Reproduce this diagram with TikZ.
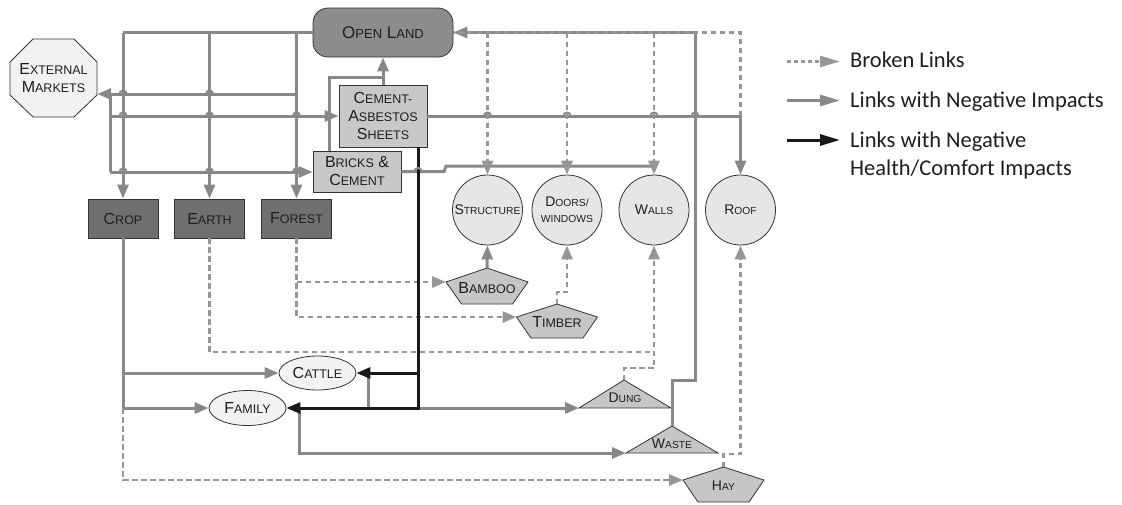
\documentclass[tikz,border=0pt]{standalone}
\usepackage{fontspec}
\setmainfont{Liberation Sans}
\newfontfamily\legfont{Carlito}
\usetikzlibrary{arrows.meta,calc,shapes.geometric}

\definecolor{ln}{HTML}{888888}
\definecolor{dln}{HTML}{969696}
\definecolor{bd}{HTML}{333333}
\definecolor{fdark}{HTML}{707070}
\definecolor{fmid}{HTML}{8C8C8C}
\definecolor{flight}{HTML}{C8C8C8}
\definecolor{fcirc}{HTML}{E6E6E6}
\definecolor{fpale}{HTML}{F1F2F1}
\definecolor{fpoly}{HTML}{C6C6C6}
\definecolor{txt}{HTML}{1E1E1E}

\newcommand\Ka[2]{#1{\fontsize{12.5}{18}\selectfont #2}}
\newcommand\Kb[2]{#1{\fontsize{10.3}{16}\selectfont #2}}
\newcommand\Kc[2]{#1{\fontsize{13}{18}\selectfont #2}}

\tikzset{
  gl/.style={draw=ln, line width=3pt},
  dl/.style={draw=dln, line width=2.8pt, dash pattern=on 5.5pt off 3.5pt},
  bl/.style={draw=black!90, line width=3pt},
  tip/.style={-{Triangle[length=14pt,width=11pt]}},
  box/.style={draw=bd, line width=0.8pt, inner sep=0pt, align=center, text=txt,
              font=\fontsize{16}{18}\selectfont},
  circ/.style={circle, draw=bd, line width=0.8pt, fill=fcirc, minimum size=70pt,
               inner sep=0pt, align=center, text=txt, font=\fontsize{14}{16}\selectfont},
  ell/.style={ellipse, draw=bd, line width=0.8pt, fill=fpale, minimum width=77pt,
              minimum height=34pt, inner sep=0pt, text=txt, font=\fontsize{16}{18}\selectfont},
  poly/.style={draw=bd, line width=0.8pt, fill=fpoly},
  lbl/.style={inner sep=0pt, align=center, text=txt, font=\fontsize{16}{18}\selectfont},
  lbls/.style={inner sep=0pt, align=center, text=txt, font=\fontsize{14}{16}\selectfont},
  legtxt/.style={anchor=base west, inner sep=0pt, text=txt, font=\legfont\fontsize{22.5}{28}\selectfont},
  hop/.style={draw=ln, line width=2pt}
}

\begin{document}
\begin{tikzpicture}[x=1pt,y=-1pt]
\useasboundingbox (0,0) rectangle (1122,504);

% ---------- shapes drawn directly ----------
\draw[draw=bd, line width=0.8pt, fill=fpale]
  (10,62) -- (33,39) -- (74,39) -- (97,62) -- (97,95) -- (74,117) -- (33,117) -- (10,95) -- cycle;
\draw[poly] (487,268) -- (528,282) -- (512.5,304) -- (461.5,304) -- (446,282) -- cycle;
\draw[poly] (557,304) -- (597.5,317) -- (583,338) -- (531,338) -- (516.5,317) -- cycle;
\draw[poly] (723.5,467) -- (764,480) -- (749,502) -- (698,502) -- (683,480) -- cycle;
\draw[poly] (624,380) -- (671,408) -- (579,408) -- cycle;
\draw[poly] (672,426) -- (718,453) -- (626,453) -- cycle;

\coordinate (bamT) at (487,268);   \coordinate (bamL) at (446,282);
\coordinate (timT) at (557,304);   \coordinate (timL) at (516.5,317);
\coordinate (hayT) at (723.5,467); \coordinate (hayL) at (683,480);
\coordinate (dungA) at (624,380);  \coordinate (dungL) at (579,408);
\coordinate (wasteA) at (672,426); \coordinate (wasteL) at (626,453);

% ---------- nodes ----------
\node[box, rounded corners=15pt, fill=fmid, minimum width=140pt, minimum height=49pt,
      font=\fontsize{17}{18}\selectfont] (ol) at (383,32.5) {\Kc{O}{PEN} \Kc{L}{AND}};
\node[lbl, minimum width=87pt, minimum height=78pt] (em) at (53.5,78)
      {\Ka{E}{XTERNAL}\\\Ka{M}{ARKETS}};
\node[box, fill=flight, minimum width=88pt, minimum height=62pt] (cas) at (383,116)
      {\Ka{C}{EMENT-}\\\Ka{A}{SBESTOS}\\\Ka{S}{HEETS}};
\node[box, fill=flight, minimum width=88pt, minimum height=41pt] (bc) at (357,171.5)
      {\Ka{B}{RICKS} \&\\\Ka{C}{EMENT}};
\node[box, fill=fdark, minimum width=70pt, minimum height=39pt] (crop) at (123,218.5) {\Ka{C}{ROP}};
\node[box, fill=fdark, minimum width=70pt, minimum height=39pt] (earth) at (209.5,218.5) {\Ka{E}{ARTH}};
\node[box, fill=fdark, minimum width=70pt, minimum height=39pt] (forest) at (296.5,218.5) {\Ka{F}{OREST}};

\node[circ] (st) at (487.5,210) {\Kb{S}{TRUCTURE}};
\node[circ] (dw) at (567,210) {\Kb{D}{OORS/}\\\Kb{}{WINDOWS}};
\node[circ] (wa) at (654,210) {\Kb{W}{ALLS}};
\node[circ] (rf) at (740.5,210) {\Kb{R}{OOF}};

\node[ell] (ca) at (317.5,373) {\Ka{C}{ATTLE}};
\node[ell, minimum height=35pt] (fa) at (247.5,408) {\Ka{F}{AMILY}};

\node[lbl] (bam) at (487,288) {\Ka{B}{AMBOO}};
\node[lbl] (tim) at (557,322) {\Ka{T}{IMBER}};
\node[lbls] (hay) at (723.5,486) {\Kb{H}{AY}};
\node[lbls] (dung) at (625,398) {\Kb{D}{UNG}};
\node[lbls] (waste) at (672,444) {\Kb{W}{ASTE}};

% ---------- connectors ----------
% Open Land -> Crop / Earth / Forest
\draw[gl] (ol.west) -- (crop.north |- ol.west);
\draw[gl,tip] (crop.north |- ol.west) -- (crop.north);
\draw[gl,tip] (earth.north |- ol.west) -- (earth.north);
\draw[gl,tip] (forest.north |- ol.west) -- (forest.north);

% -> External Markets, External Markets -> materials
\coordinate (j1) at (110,94); \coordinate (j2) at (110,116); \coordinate (j3) at (110,172);
\draw[gl,tip] (forest.north |- j1) -- (em.east |- j1);
\draw[gl] (j1) -- (j3);
\draw[gl,tip] (j2) -- (cas.west |- j2);
\draw[gl,tip] (j3) -- (bc.west |- j3);

% materials -> Open Land
\draw[gl,tip] (cas.north) -- (ol.south);
\draw[gl] ($(bc.north west)+(17,0)$) |- ($(cas.north)+(0,-7)$);

% Cement-Asbestos -> Roof
\draw[gl,tip] (cas.east) -| (rf.north);

% Bricks -> Structure / Doors / Walls
\draw[gl] (bc.east) -- (444,171.5) -- (446,166) -- (wa.north |- 0,166);

% Waste -> Open Land
\draw[gl,tip] (wasteA) -- (672,380) -- (695,380) -- (695,32.5) -- (ol.east);

% broken links from top to elements
\draw[dl] (rf.north |- cas.east) -- (rf.north |- ol.east) -- (ol.east);
\foreach \n in {st,dw,wa} \draw[dl,tip] (\n.north |- ol.east) -- (\n.north);

% Crop -> Cattle, Family, Hay
\draw[gl] (crop.south) -- (crop.south |- fa.west);
\draw[gl,tip] (crop.south |- ca.west) -- (ca.west);
\draw[gl,tip] (crop.south |- fa.west) -- (fa.west);
\draw[dl,tip] (crop.south |- fa.west) |- (hayL);

% Earth -> Walls, Dung -> Walls
\draw[dl] (earth.south) |- (wa.south |- 0,352);
\draw[dl,tip] (dungA) -- (624,368) -- (wa.south |- 0,368) -- (wa.south);

% Forest -> Bamboo, Timber
\draw[dl,tip] (forest.south) |- (timL);
\draw[dl,tip] (forest.south |- bamL) -- (bamL);

% Bamboo -> Structure, Timber -> Doors, Hay -> Roof
\draw[gl,tip] (bamT) -- (st.south);
\draw[dl,tip] (timT) -- (557,292) -- (dw.south |- 0,292) -- (dw.south);
\draw[dl,tip] (hayT) -- (723.5,454) -- (rf.south |- 0,454) -- (rf.south);

% Cattle -> Dung, Family -> Waste
\draw[gl,tip] ($(ca.east)+(12,0)$) |- (dungL);
\draw[gl,tip] ($(fa.east)+(13,0)$) |- (wasteL);

% health/comfort links
\coordinate (bk) at ($(cas.south)+(35,0)$);
\draw[bl,tip] (bk) |- (fa.east);
\draw[bl,tip] (bk |- ca.east) -- (ca.east);

% line hops
\foreach \x/\y in {123/94, 209.5/94, 123/116, 209.5/116, 296.5/116, 123/172, 209.5/172,
                   296.5/172, 487.5/116, 567/116, 654/116, 695/116, 418/171.5}
  \draw[hop] ({\x-3.5},\y) arc[start angle=180, end angle=360, radius=3.5];

% ---------- legend ----------
\coordinate (l1a) at (787,61.5); \coordinate (l1b) at (840,61.5);
\coordinate (l2a) at (787,100.5); \coordinate (l2b) at (840,100.5);
\coordinate (l3a) at (787,140); \coordinate (l3b) at (840,140);
\draw[draw=dln, line width=2.6pt, dash pattern=on 4pt off 3pt, -{Triangle[length=20pt,width=11pt]}] (l1a) -- (l1b);
\draw[draw=ln, line width=3pt, -{Triangle[length=20pt,width=11pt]}] (l2a) -- (l2b);
\draw[draw=black!90, line width=3pt, -{Triangle[length=20pt,width=11pt]}] (l3a) -- (l3b);
\node[legtxt] (lt1) at (850,67) {Broken Links};
\node[legtxt] (lt2) at (850,107) {Links with Negative Impacts};
\node[legtxt] (lt3) at (850,147) {Links with Negative};
\node[legtxt] (lt4) at (850,175) {Health/Comfort Impacts};
\end{tikzpicture}
\end{document}
